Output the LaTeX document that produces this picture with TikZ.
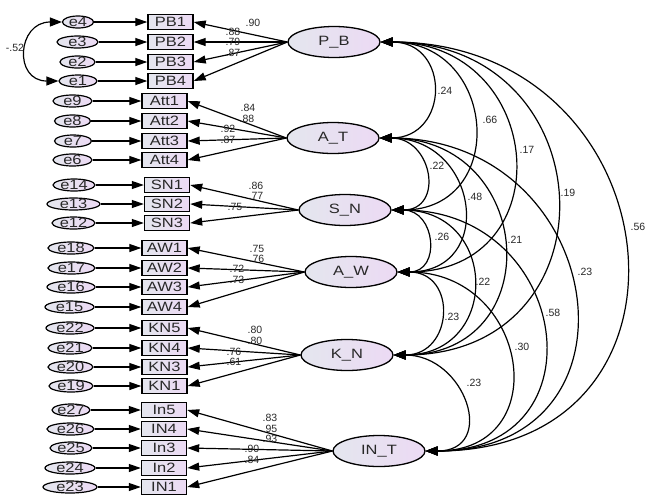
\documentclass[tikz,border=0pt]{standalone}
\usepackage{fontspec}
\setmainfont{Liberation Sans}
\newfontfamily\wfont[FakeStretch=1.22]{Liberation Sans}
\usetikzlibrary{arrows.meta,shapes.geometric}
\definecolor{cL}{RGB}{228,230,238}
\definecolor{cR}{RGB}{236,218,244}
\definecolor{txt}{RGB}{40,40,40}
\tikzset{
 errv/.style={ellipse,draw,line width=1.2pt,left color=cL,right color=cR,minimum height=12pt,inner sep=0pt},
 obsv/.style={rectangle,draw,line width=1.4pt,left color=cL,right color=cR,minimum width=45pt,minimum height=15pt,inner sep=0pt,font=\wfont\fontsize{13.5}{14}\selectfont,text=txt},
 latv/.style={ellipse,draw,line width=1.3pt,left color=cL,right color=cR,minimum width=92pt,minimum height=31pt,inner sep=0pt,font=\wfont\fontsize{13.5}{14}\selectfont,text=txt},
 etext/.style={font=\wfont\fontsize{13.5}{14}\selectfont,text=txt,inner sep=0pt},
 num/.style={font=\fontsize{10.5}{11}\selectfont,text=txt,inner sep=0pt},
 ld/.style={line width=1.2pt,-{Triangle[length=12pt,width=8pt]}},
 corr/.style={line width=1.2pt,{Triangle[length=12pt,width=9pt]}-{Triangle[length=12pt,width=9pt]}},
}
\begin{document}
\begin{tikzpicture}[x=1pt,y=-1pt]
\useasboundingbox (0,0) rectangle (661,499);
% latent variables
\node[latv] (PB) at (334,42) {P\_B};
\node[latv] (AT) at (333,138) {A\_T};
\node[latv] (SN) at (345,210) {S\_N};
\node[latv] (AW) at (351,272) {A\_W};
\node[latv] (KN) at (347,355) {K\_N};
\node[latv] (INT) at (379,451) {IN\_T};
% observed
\node[obsv] (PB1) at (170.5,22) {PB1};
\node[obsv] (PB2) at (170.5,42) {PB2};
\node[obsv] (PB3) at (170.5,62) {PB3};
\node[obsv] (PB4) at (170.5,81) {PB4};
\node[obsv] (Att1) at (164.5,101) {Att1};
\node[obsv] (Att2) at (164.5,121) {Att2};
\node[obsv] (Att3) at (164.5,141) {Att3};
\node[obsv] (Att4) at (164.5,160) {Att4};
\node[obsv] (SN1) at (167,185) {SN1};
\node[obsv] (SN2) at (167,204) {SN2};
\node[obsv] (SN3) at (167,223) {SN3};
\node[obsv] (AW1) at (164.5,248) {AW1};
\node[obsv] (AW2) at (164.5,268) {AW2};
\node[obsv] (AW3) at (164.5,287) {AW3};
\node[obsv] (AW4) at (164.5,307) {AW4};
\node[obsv] (KN5) at (164.5,328) {KN5};
\node[obsv] (KN4) at (164.5,348) {KN4};
\node[obsv] (KN3) at (164.5,367) {KN3};
\node[obsv] (KN1) at (164.5,386) {KN1};
\node[obsv] (In5) at (164,410) {In5};
\node[obsv] (IN4) at (164,429) {IN4};
\node[obsv] (In3) at (164,448) {In3};
\node[obsv] (In2) at (164,468) {In2};
\node[obsv] (IN1) at (164,487) {IN1};
% errors
\node[errv,minimum width=31pt,label={[etext]center:e4}] (e4) at (78,22) {};
\node[errv,minimum width=41pt,label={[etext]center:e3}] (e3) at (77.5,42) {};
\node[errv,minimum width=35pt,label={[etext]center:e2}] (e2) at (77.5,62) {};
\node[errv,minimum width=38pt,label={[etext]center:e1}] (e1) at (78,81) {};
\node[errv,minimum width=39pt,label={[etext]center:e9}] (e9) at (72.5,101) {};
\node[errv,minimum width=36pt,label={[etext]center:e8}] (e8) at (72.5,121) {};
\node[errv,minimum width=37pt,label={[etext]center:e7}] (e7) at (73,141) {};
\node[errv,minimum width=39pt,label={[etext]center:e6}] (e6) at (72.5,160) {};
\node[errv,minimum width=42pt,label={[etext]center:e14}] (e14) at (74,185) {};
\node[errv,minimum width=53pt,label={[etext]center:e13}] (e13) at (73.5,204) {};
\node[errv,minimum width=43pt,label={[etext]center:e12}] (e12) at (73.5,223) {};
\node[errv,minimum width=46pt,label={[etext]center:e18}] (e18) at (71,248) {};
\node[errv,minimum width=47pt,label={[etext]center:e17}] (e17) at (71.5,268) {};
\node[errv,minimum width=48pt,label={[etext]center:e16}] (e16) at (71,287) {};
\node[errv,minimum width=49pt,label={[etext]center:e15}] (e15) at (69.5,307) {};
\node[errv,minimum width=48pt,label={[etext]center:e22}] (e22) at (70,328) {};
\node[errv,minimum width=44pt,label={[etext]center:e21}] (e21) at (70,348) {};
\node[errv,minimum width=45pt,label={[etext]center:e20}] (e20) at (70.5,367) {};
\node[errv,minimum width=44pt,label={[etext]center:e19}] (e19) at (71,386) {};
\node[errv,minimum width=38pt,label={[etext]center:e27}] (e27) at (71,410) {};
\node[errv,minimum width=47pt,label={[etext]center:e26}] (e26) at (70.5,429) {};
\node[errv,minimum width=42pt,label={[etext]center:e25}] (e25) at (71,448) {};
\node[errv,minimum width=50pt,label={[etext]center:e24}] (e24) at (70,468) {};
\node[errv,minimum width=54pt,label={[etext]center:e23}] (e23) at (70,487) {};
% error arrows
\foreach \e/\o in {e4/PB1,e3/PB2,e2/PB3,e1/PB4,e9/Att1,e8/Att2,e7/Att3,e6/Att4,e14/SN1,e13/SN2,e12/SN3,e18/AW1,e17/AW2,e16/AW3,e15/AW4,e22/KN5,e21/KN4,e20/KN3,e19/KN1,e27/In5,e26/IN4,e25/In3,e24/In2,e23/IN1}
  \draw[ld] (\e.east) -- (\o.west);
% loadings
\foreach \l/\o in {PB/PB1,PB/PB2,PB/PB3,PB/PB4,AT/Att1,AT/Att2,AT/Att3,AT/Att4,SN/SN1,SN/SN2,SN/SN3,AW/AW1,AW/AW2,AW/AW3,AW/AW4,KN/KN5,KN/KN4,KN/KN3,KN/KN1,INT/In5,INT/IN4,INT/In3,INT/In2,INT/IN1}
  \draw[ld] (\l.west) -- (\o.east);
% loading labels
\node[num] (l1) at (253,23) {.90};
\node[num] (l2) at (233,32) {.88};
\node[num] (l3) at (233,42) {.79};
\node[num] (l4) at (233,53) {.87};
\node[num] (l5) at (248,108) {.84};
\node[num] (l6) at (247,119) {.88};
\node[num] (l7) at (228,129) {.92};
\node[num] (l8) at (228,140) {.87};
\node[num] (l9) at (256,186) {.86};
\node[num] (l10) at (256,196) {.77};
\node[num] (l11) at (235,207) {.75};
\node[num] (l12) at (257,249) {.75};
\node[num] (l13) at (257,259) {.76};
\node[num] (l14) at (237,269) {.72};
\node[num] (l15) at (237,280) {.73};
\node[num] (l16) at (255,330) {.80};
\node[num] (l17) at (255,341) {.80};
\node[num] (l18) at (234,352) {.76};
\node[num] (l19) at (234,362) {.61};
\node[num] (l20) at (270,418) {.83};
\node[num] (l21) at (270,428.5) {.95};
\node[num] (l22) at (270,439) {.93};
\node[num] (l23) at (252,449) {.90};
\node[num] (l24) at (252,460) {.84};
% error covariance
\draw[corr] (e4.west) to[out=180,in=180,distance=45pt] (e1.west);
\node[num] (c0) at (15,48) {-.52};
% latent correlations
\draw[corr] (PB.east) to[out=0,in=0,distance=70pt] (AT.east);
\draw[corr] (PB.east) to[out=0,in=0,distance=117pt] (SN.east);
\draw[corr] (PB.east) to[out=0,in=0,distance=166pt] (AW.east);
\draw[corr] (PB.east) to[out=0,in=0,distance=226pt] (KN.east);
\draw[corr] (PB.east) to[out=0,in=0,distance=295pt] (INT.east);
\draw[corr] (AT.east) to[out=0,in=0,distance=53pt] (SN.east);
\draw[corr] (AT.east) to[out=0,in=0,distance=99pt] (AW.east);
\draw[corr] (AT.east) to[out=0,in=0,distance=156pt] (KN.east);
\draw[corr] (AT.east) to[out=0,in=0,distance=228pt] (INT.east);
\draw[corr] (SN.east) to[out=0,in=0,distance=44pt] (AW.east);
\draw[corr] (SN.east) to[out=0,in=0,distance=107pt] (KN.east);
\draw[corr] (SN.east) to[out=0,in=0,distance=179pt] (INT.east);
\draw[corr] (AW.east) to[out=0,in=0,distance=60pt] (KN.east);
\draw[corr] (AW.east) to[out=0,in=0,distance=131pt] (INT.east);
\draw[corr] (KN.east) to[out=0,in=0,distance=72pt] (INT.east);
% correlation labels
\node[num] (c1) at (445,91) {.24};
\node[num] (c2) at (490,120) {.66};
\node[num] (c3) at (527,150) {.17};
\node[num] (c4) at (568,193) {.19};
\node[num] (c5) at (638,227) {.56};
\node[num] (c6) at (437,166) {.22};
\node[num] (c7) at (475,197) {.48};
\node[num] (c8) at (515,240) {.21};
\node[num] (c9) at (585,272) {.23};
\node[num] (c10) at (442,237) {.26};
\node[num] (c11) at (483,282) {.22};
\node[num] (c12) at (553,313) {.58};
\node[num] (c13) at (452,317) {.23};
\node[num] (c14) at (522,347) {.30};
\node[num] (c15) at (474,383) {.23};
\end{tikzpicture}
\end{document}
